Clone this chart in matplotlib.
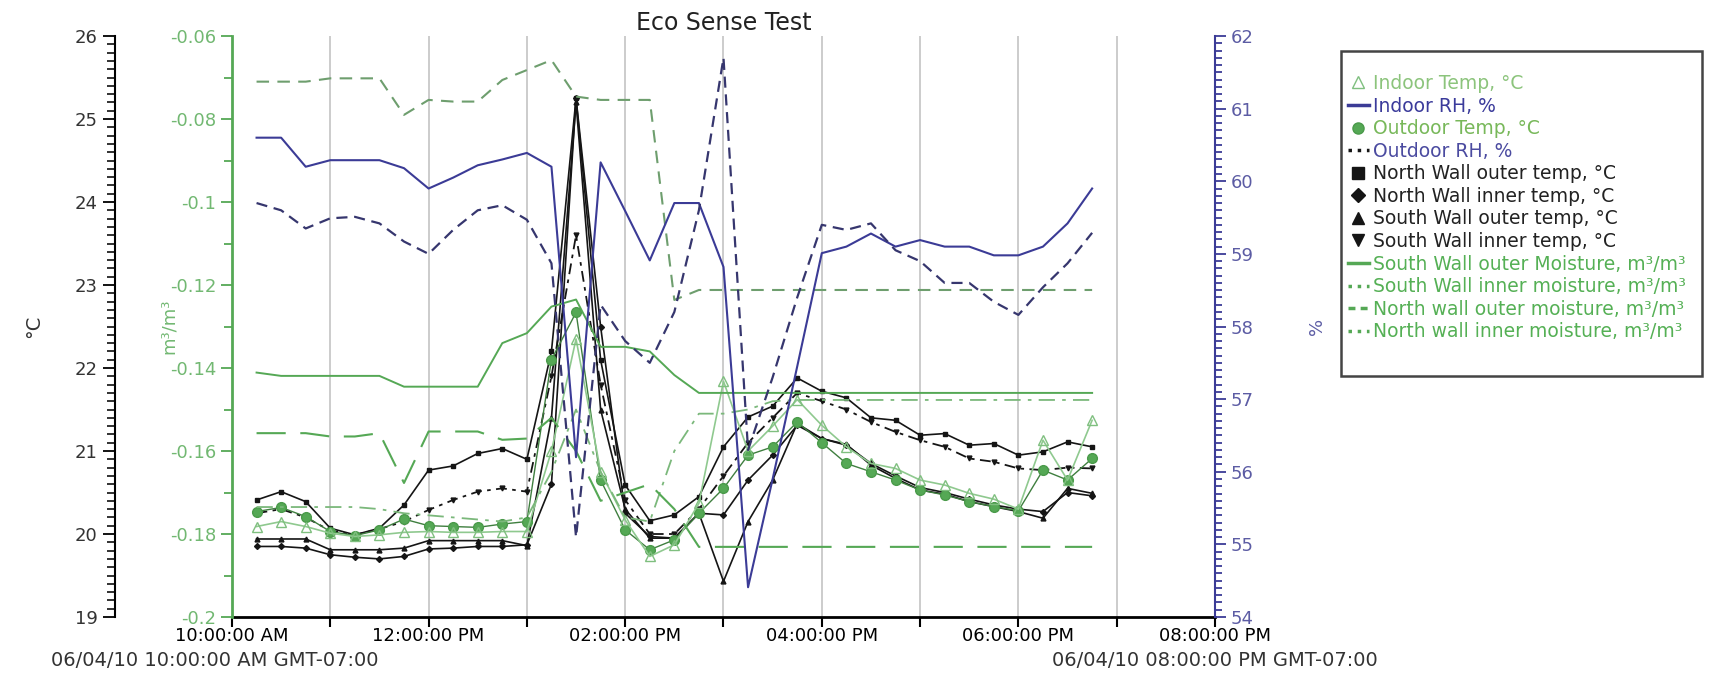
import matplotlib
matplotlib.use('Agg')
import matplotlib.pyplot as plt
import matplotlib.dates as mdates
from matplotlib.lines import Line2D
from matplotlib.patches import Rectangle
from matplotlib.ticker import MultipleLocator, FuncFormatter
import pandas as pd

plt.rcParams['axes.unicode_minus'] = False

# sample times (15 min logger interval)
times = ['10:15', '10:30', '10:45', '11:00', '11:15', '11:30', '11:45', '12:00', '12:15',
         '12:30', '12:45', '13:00', '13:15', '13:30', '13:45', '14:00', '14:15', '14:30',
         '14:45', '15:00', '15:15', '15:30', '15:45', '16:00', '16:15', '16:30', '16:45',
         '17:00', '17:15', '17:30', '17:45', '18:00', '18:15', '18:30', '18:45']

indoor_temp = [20.09, 20.15, 20.09, 20.01, 19.97, 19.99, 20.02, 20.03, 20.02, 20.02, 20.03, 20.03,
               21.00, 22.35, 20.75, 20.17, 19.73, 19.87, 20.37, 21.84, 21.00, 21.30, 21.62, 21.31,
               21.05, 20.85, 20.79, 20.65, 20.59, 20.49, 20.42, 20.30, 21.13, 20.65, 21.37]
outdoor_temp = [20.27, 20.32, 20.21, 20.03, 19.98, 20.05, 20.18, 20.10, 20.09, 20.08, 20.12, 20.15,
                22.10, 22.67, 20.65, 20.05, 19.81, 19.93, 20.25, 20.55, 20.95, 21.05, 21.35, 21.10,
                20.85, 20.75, 20.65, 20.53, 20.47, 20.39, 20.33, 20.28, 20.77, 20.65, 20.91]
nw_outer_temp = [20.41, 20.51, 20.39, 20.07, 19.99, 20.07, 20.35, 20.77, 20.82, 20.97, 21.03, 20.90,
                 22.20, 25.25, 22.10, 20.59, 20.16, 20.23, 20.45, 21.05, 21.41, 21.54, 21.88, 21.72,
                 21.64, 21.40, 21.37, 21.19, 21.21, 21.07, 21.09, 20.95, 20.99, 21.11, 21.05]
nw_inner_temp = [19.85, 19.85, 19.83, 19.75, 19.72, 19.70, 19.73, 19.82, 19.83, 19.85, 19.85, 19.87,
                 20.60, 25.25, 22.50, 20.25, 19.97, 19.95, 20.25, 20.23, 20.65, 20.95, 21.31, 21.15,
                 21.07, 20.85, 20.70, 20.56, 20.50, 20.42, 20.35, 20.30, 20.27, 20.50, 20.46]
sw_outer_temp = [19.94, 19.94, 19.94, 19.81, 19.81, 19.81, 19.83, 19.92, 19.92, 19.92, 19.92, 19.86,
                 21.40, 25.20, 21.50, 20.30, 19.95, 19.95, 20.25, 19.43, 20.15, 20.65, 21.33, 21.15,
                 21.08, 20.83, 20.67, 20.53, 20.48, 20.39, 20.33, 20.27, 20.19, 20.55, 20.49]
sw_inner_temp = [20.25, 20.30, 20.20, 20.04, 19.99, 20.06, 20.15, 20.29, 20.41, 20.51, 20.55, 20.51,
                 21.90, 23.60, 21.80, 20.41, 20.00, 20.00, 20.30, 20.70, 21.10, 21.40, 21.70, 21.60,
                 21.50, 21.35, 21.23, 21.13, 21.05, 20.91, 20.87, 20.79, 20.77, 20.80, 20.79]

indoor_rh = [60.60, 60.60, 60.20, 60.29, 60.29, 60.29, 60.18, 59.90, 60.05, 60.22, 60.30, 60.39,
             60.20, 56.20, 60.26, 59.59, 58.91, 59.70, 59.70, 58.82, 54.41, 55.90, 57.45, 59.01,
             59.10, 59.28, 59.10, 59.19, 59.10, 59.10, 58.98, 58.98, 59.10, 59.42, 59.90]
outdoor_rh = [59.70, 59.60, 59.35, 59.49, 59.51, 59.42, 59.17, 59.00, 59.33, 59.60, 59.67, 59.47,
              58.87, 55.10, 58.30, 57.80, 57.50, 58.20, 59.60, 61.70, 56.30, 57.30, 58.40, 59.40,
              59.33, 59.42, 59.05, 58.90, 58.60, 58.60, 58.34, 58.16, 58.54, 58.87, 59.29]

sw_outer_moist = [-0.1411, -0.1419, -0.1419, -0.1419, -0.1419, -0.1419, -0.1445, -0.1445, -0.1445,
                  -0.1445, -0.1340, -0.1316, -0.1252, -0.1235, -0.1349, -0.1349, -0.1360, -0.1417,
                  -0.1460, -0.1460, -0.1460, -0.1460, -0.1460, -0.1460, -0.1460, -0.1460, -0.1460,
                  -0.1460, -0.1460, -0.1460, -0.1460, -0.1460, -0.1460, -0.1460, -0.1460]
sw_inner_moist = [-0.1735, -0.1735, -0.1735, -0.1735, -0.1735, -0.1740, -0.1750, -0.1755, -0.1760,
                  -0.1765, -0.1770, -0.1760, -0.1650, -0.1500, -0.1650, -0.1760, -0.1770, -0.1600,
                  -0.1510, -0.1510, -0.1500, -0.1480, -0.1477, -0.1477, -0.1477, -0.1477, -0.1477,
                  -0.1477, -0.1477, -0.1477, -0.1477, -0.1477, -0.1477, -0.1477, -0.1477]
nw_outer_moist = [-0.0710, -0.0710, -0.0710, -0.0702, -0.0702, -0.0702, -0.0790, -0.0754, -0.0758,
                  -0.0758, -0.0706, -0.0682, -0.0658, -0.0746, -0.0754, -0.0754, -0.0754, -0.1236,
                  -0.1212, -0.1212, -0.1212, -0.1212, -0.1212, -0.1212, -0.1212, -0.1212, -0.1212,
                  -0.1212, -0.1212, -0.1212, -0.1212, -0.1212, -0.1212, -0.1212, -0.1212]
nw_inner_moist = [-0.1557, -0.1557, -0.1557, -0.1565, -0.1565, -0.1557, -0.1677, -0.1553, -0.1553,
                  -0.1553, -0.1573, -0.1570, -0.1520, -0.1600, -0.1720, -0.1700, -0.1680, -0.1740,
                  -0.1831, -0.1831, -0.1831, -0.1831, -0.1831, -0.1831, -0.1831, -0.1831, -0.1831,
                  -0.1831, -0.1831, -0.1831, -0.1831, -0.1831, -0.1831, -0.1831, -0.1831]

t = pd.to_datetime(['2010-06-04 ' + s for s in times])

# colours
c_light = '#8fc98f'
c_green = '#55a855'
c_dkgreen = '#3f7f3f'
c_navy = '#3b3b96'
c_navy2 = '#36366e'
c_black = '#151515'

fig = plt.figure(figsize=(17.12, 6.73), dpi=100)
ax = fig.add_axes([0.1355, 0.0832, 0.5742, 0.8633])
ax_m = ax.twinx()
ax_rh = ax.twinx()

# moisture (m3/m3)
ax_m.plot(t, sw_outer_moist, color=c_green, lw=1.4)
ax_m.plot(t, sw_inner_moist, color='#7bb87b', lw=1.3, dashes=(9, 4, 2, 4))
ax_m.plot(t, nw_outer_moist, color='#6e9e6e', lw=1.5, dashes=(6, 4))
ax_m.plot(t, nw_inner_moist, color=c_green, lw=1.5, dashes=(14, 7))

# temperatures
ax.plot(t, nw_outer_temp, color=c_black, lw=1.2, marker='s', ms=3)
ax.plot(t, nw_inner_temp, color=c_black, lw=1.2, marker='D', ms=3)
ax.plot(t, sw_outer_temp, color=c_black, lw=1.2, marker='^', ms=3.5)
ax.plot(t, sw_inner_temp, color=c_black, lw=1.3, marker='v', ms=3.5, dashes=(6, 3, 2, 3))
ax.plot(t, outdoor_temp, color=c_dkgreen, lw=1.0, marker='o', ms=7, mfc=c_green, mec='#4a9a4a')
ax.plot(t, indoor_temp, color=c_light, lw=1.2, marker='^', ms=7, mfc='none', mec='#7fbf7f')

# relative humidity
ax_rh.plot(t, indoor_rh, color=c_navy, lw=1.5)
ax_rh.plot(t, outdoor_rh, color=c_navy2, lw=1.6, dashes=(5, 3))

# x axis
ax.set_xlim(pd.Timestamp('2010-06-04 10:00'), pd.Timestamp('2010-06-04 20:00'))
ax.xaxis.set_major_locator(mdates.HourLocator(interval=2))
ax.xaxis.set_minor_locator(mdates.HourLocator(interval=1))
ax.xaxis.set_major_formatter(mdates.DateFormatter('%I:%M:%S %p'))
ax.tick_params(axis='x', which='both', direction='out', length=7, width=1.5,
               color='black', labelsize=13, pad=0)
ax.grid(axis='x', which='both', color='#c8c8c8', lw=1.3)

# left deg C axis
ax.set_ylim(19, 26)
ax.yaxis.set_major_locator(MultipleLocator(1))
ax.yaxis.set_minor_locator(MultipleLocator(0.1))
ax.spines['left'].set_position(('axes', -0.119))
ax.spines['left'].set_linewidth(1.5)
ax.spines['bottom'].set_linewidth(2)
ax.spines['top'].set_visible(False)
ax.spines['right'].set_visible(False)
ax.tick_params(axis='y', which='major', length=9, width=1.3, labelsize=13, labelcolor='#333333')
ax.tick_params(axis='y', which='minor', length=6, width=1.3, color='#222222')
ax.set_ylabel('°C', fontsize=14, color='#333333')
ax.yaxis.set_label_coords(-0.192, 0.5)

# moisture axis on the plot's left edge
ax_m.set_ylim(-0.2, -0.06)
ax_m.yaxis.tick_left()
ax_m.yaxis.set_label_position('left')
for s in ['top', 'right', 'bottom']:
    ax_m.spines[s].set_visible(False)
ax_m.spines['left'].set_visible(True)
ax_m.spines['left'].set_position(('axes', 0))
ax_m.spines['left'].set_color(c_green)
ax_m.spines['left'].set_linewidth(2)
ax_m.yaxis.set_major_locator(MultipleLocator(0.02))
ax_m.yaxis.set_minor_locator(MultipleLocator(0.01))
ax_m.yaxis.set_major_formatter(FuncFormatter(lambda v, p: f'{v:g}'))
ax_m.tick_params(axis='y', which='major', length=8, width=1.3, color=c_green,
                 labelsize=13, labelcolor='#72b872')
ax_m.tick_params(axis='y', which='minor', length=6, width=1.3, color=c_green)
ax_m.set_ylabel('m³/m³', fontsize=13, color='#72b872')
ax_m.yaxis.set_label_coords(-0.055, 0.5)

# RH axis on the right
ax_rh.set_ylim(54, 62)
for s in ['top', 'left', 'bottom']:
    ax_rh.spines[s].set_visible(False)
ax_rh.spines['right'].set_color(c_navy)
ax_rh.spines['right'].set_linewidth(1.5)
ax_rh.yaxis.set_major_locator(MultipleLocator(1))
ax_rh.yaxis.set_minor_locator(MultipleLocator(0.1))
ax_rh.tick_params(axis='y', which='major', length=8, width=1.3, color=c_navy,
                  labelsize=13, labelcolor='#5c5ca4')
ax_rh.tick_params(axis='y', which='minor', length=5, width=1.3, color=c_navy)
ax_rh.set_ylabel('%', fontsize=13, color='#5c5ca4')
ax_rh.yaxis.set_label_coords(1.095, 0.5)

ax.set_title('Eco Sense Test', fontsize=17, color='#222222', pad=4)

fig.text(0.1256, 0.004, '06/04/10 10:00:00 AM GMT-07:00', ha='center', va='bottom',
         fontsize=14, color='#333333')
fig.text(0.7097, 0.004, '06/04/10 08:00:00 PM GMT-07:00', ha='center', va='bottom',
         fontsize=14, color='#333333')

# legend
handles = [
    Line2D([], [], ls='none', marker='^', ms=8, mfc='none', mec='#7fbf7f'),
    Line2D([], [], color=c_navy, lw=2.5),
    Line2D([], [], ls='none', marker='o', ms=8, mfc=c_green, mec='#4a9a4a'),
    Line2D([], [], color=c_black, lw=2.5, ls=':'),
    Line2D([], [], ls='none', marker='s', ms=8, color=c_black),
    Line2D([], [], ls='none', marker='D', ms=7, color=c_black),
    Line2D([], [], ls='none', marker='^', ms=8, color=c_black),
    Line2D([], [], ls='none', marker='v', ms=8, color=c_black),
    Line2D([], [], color=c_green, lw=2.5),
    Line2D([], [], color=c_green, lw=2.5, ls=':'),
    Line2D([], [], color=c_green, lw=2.5, dashes=(2, 1.5)),
    Line2D([], [], color=c_green, lw=2.5, ls=':'),
]
labels = ['Indoor Temp, °C', 'Indoor RH, %', 'Outdoor Temp, °C', 'Outdoor RH, %',
          'North Wall outer temp, °C', 'North Wall inner temp, °C',
          'South Wall outer temp, °C', 'South Wall inner temp, °C',
          'South Wall outer Moisture, m³/m³', 'South Wall inner moisture, m³/m³',
          'North wall outer moisture, m³/m³', 'North wall inner moisture, m³/m³']
label_colors = ['#8cc47c', '#3b3b9b', '#78b85a', '#4b4ba0', '#222222', '#222222', '#222222',
                '#222222', '#55b055', '#55b055', '#55b055', '#55b055']
leg = fig.legend(handles, labels, loc='upper left', bbox_to_anchor=(1348 / 1712, 1 - 74 / 673),
                 frameon=False, fontsize=13.5, handlelength=1.1, handletextpad=0.25,
                 labelspacing=0.19, borderpad=0, borderaxespad=0)
for txt, c in zip(leg.get_texts(), label_colors):
    txt.set_color(c)

fig.patches.append(Rectangle((1341 / 1712, 1 - 376 / 673), 361 / 1712, 325 / 673,
                             transform=fig.transFigure, fill=False, ec='#444444', lw=1.8))

fig.savefig('out.png', dpi=100)
